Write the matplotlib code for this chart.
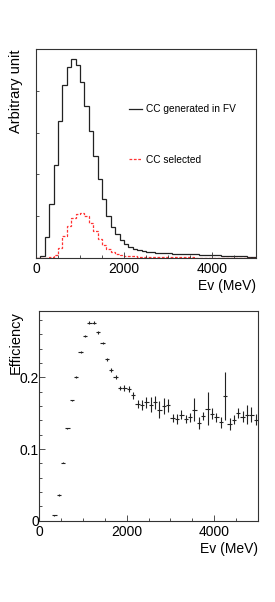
import matplotlib
matplotlib.use("Agg")
import matplotlib.pyplot as plt
from matplotlib.ticker import MultipleLocator, NullFormatter, FuncFormatter
import numpy as np

plt.rcParams['font.family'] = ['Liberation Sans', 'DejaVu Sans']

# neutrino energy bins (MeV), 100 MeV wide
edges = np.arange(0, 5001, 100)

# CC generated in FV (arbitrary units, one value per bin)
cc_fv = [0.00, 0.04, 0.50, 1.29, 2.23, 3.28, 4.13, 4.57, 4.75, 4.61,
         4.20, 3.64, 3.05, 2.43, 1.88, 1.41, 1.01, 0.75, 0.57, 0.42,
         0.33, 0.27, 0.22, 0.19, 0.16, 0.15, 0.14, 0.13, 0.12, 0.11,
         0.11, 0.10, 0.10, 0.10, 0.09, 0.09, 0.09, 0.08, 0.08, 0.08,
         0.07, 0.07, 0.06, 0.06, 0.05, 0.05, 0.04, 0.04, 0.03, 0.03]

# CC selected
cc_sel = [0.00, 0.00, 0.00, 0.02, 0.08, 0.24, 0.52, 0.76, 0.96, 1.06,
          1.07, 1.00, 0.84, 0.64, 0.46, 0.32, 0.21, 0.14, 0.10, 0.08,
          0.06, 0.05, 0.04, 0.035, 0.03, 0.025, 0.022, 0.02, 0.019, 0.018,
          0.016, 0.015, 0.014, 0.014, 0.013, 0.013, 0.012, 0.012, 0.011, 0.011,
          0.010, 0.010, 0.009, 0.008, 0.007, 0.007, 0.006, 0.005, 0.004, 0.004]

# efficiency, starting with the 300-400 MeV bin
eff = [0.0074, 0.036, 0.081, 0.129, 0.168, 0.201, 0.235, 0.258, 0.276, 0.276,
       0.263, 0.248, 0.225, 0.210, 0.200, 0.185, 0.185, 0.184, 0.175, 0.163,
       0.162, 0.165, 0.162, 0.165, 0.155, 0.160, 0.161, 0.143, 0.142, 0.148,
       0.142, 0.144, 0.155, 0.136, 0.146, 0.156, 0.149, 0.144, 0.137, 0.174,
       0.135, 0.141, 0.150, 0.145, 0.148, 0.148, 0.141]
eff_err = [0.0005, 0.001, 0.001, 0.001, 0.001, 0.0015, 0.0015, 0.0015, 0.002, 0.002,
           0.002, 0.002, 0.0025, 0.003, 0.003, 0.0033, 0.004, 0.004, 0.0047, 0.0056,
           0.007, 0.008, 0.010, 0.0093, 0.0116, 0.0116, 0.0093, 0.0056, 0.007, 0.0063,
           0.0058, 0.0058, 0.016, 0.008, 0.006, 0.023, 0.0077, 0.006, 0.008, 0.033,
           0.008, 0.006, 0.007, 0.0074, 0.0128, 0.0105, 0.008]

centers = 0.5 * (edges[:-1] + edges[1:])
eff_x = centers[3:3 + len(eff)]
half_w = 0.5 * np.diff(edges)[3:3 + len(eff)]

fig = plt.figure(figsize=(2.75, 6.02), dpi=100)
ax1 = fig.add_axes([0.1309, 0.5714, 0.8, 0.3472])
ax2 = fig.add_axes([0.1418, 0.1351, 0.7964, 0.3483])

spine_c = '#333333'

# --- top: energy spectra ---
ax1.stairs(cc_fv, edges, color='#222222', lw=0.9, label='CC generated in FV')
ax1.stairs(cc_sel, edges, color='#ff3333', lw=0.9, ls=(0, (2.2, 1.3)), label='CC selected')
ax1.set_xlim(0, 5000)
ax1.set_ylim(0, 5)
ax1.xaxis.set_major_locator(MultipleLocator(2000))
ax1.xaxis.set_minor_locator(MultipleLocator(500))
ax1.yaxis.set_major_locator(MultipleLocator(1))
ax1.yaxis.set_major_formatter(NullFormatter())
ax1.tick_params(axis='x', which='major', direction='in', length=4.3, width=0.6,
                labelsize=10, pad=3, color=spine_c)
ax1.tick_params(axis='x', which='minor', direction='in', length=2.2, width=0.6, color=spine_c)
ax1.tick_params(axis='y', which='major', direction='in', length=2.4, width=0.6, color=spine_c)
ax1.set_xlabel('Ev (MeV)', fontsize=10, loc='right', labelpad=2)
ax1.set_ylabel('Arbitrary unit', fontsize=10.5, loc='top', labelpad=6)
ax1.legend(loc='upper left', bbox_to_anchor=(0.38, 0.78), frameon=False, fontsize=7.3,
           handlelength=1.3, handletextpad=0.4, labelspacing=4.0)

# --- bottom: efficiency ---
ax2.errorbar(eff_x, eff, xerr=half_w, yerr=eff_err, fmt='none', ecolor='#222222',
             elinewidth=0.8, capsize=0)
ax2.set_xlim(0, 5000)
ax2.set_ylim(0, 0.2926)
ax2.xaxis.set_major_locator(MultipleLocator(2000))
ax2.xaxis.set_minor_locator(MultipleLocator(500))
ax2.yaxis.set_major_locator(MultipleLocator(0.1))
ax2.yaxis.set_minor_locator(MultipleLocator(0.02))
ax2.yaxis.set_major_formatter(FuncFormatter(lambda v, p: '%g' % round(v, 2)))
ax2.tick_params(axis='both', which='major', direction='in', length=4.3, width=0.6,
                labelsize=10, color=spine_c)
ax2.tick_params(axis='both', which='minor', direction='in', length=2.2, width=0.6, color=spine_c)
ax2.tick_params(axis='y', which='major', pad=0)
ax2.tick_params(axis='x', which='major', pad=3)
ax2.set_xlabel('Ev (MeV)', fontsize=10, loc='right', labelpad=2)
ax2.set_ylabel('Efficiency', fontsize=10.5, loc='top', labelpad=-2)

for ax in (ax1, ax2):
    for s in ax.spines.values():
        s.set_color(spine_c)
        s.set_linewidth(0.8)

fig.savefig('out.png', dpi=100)
